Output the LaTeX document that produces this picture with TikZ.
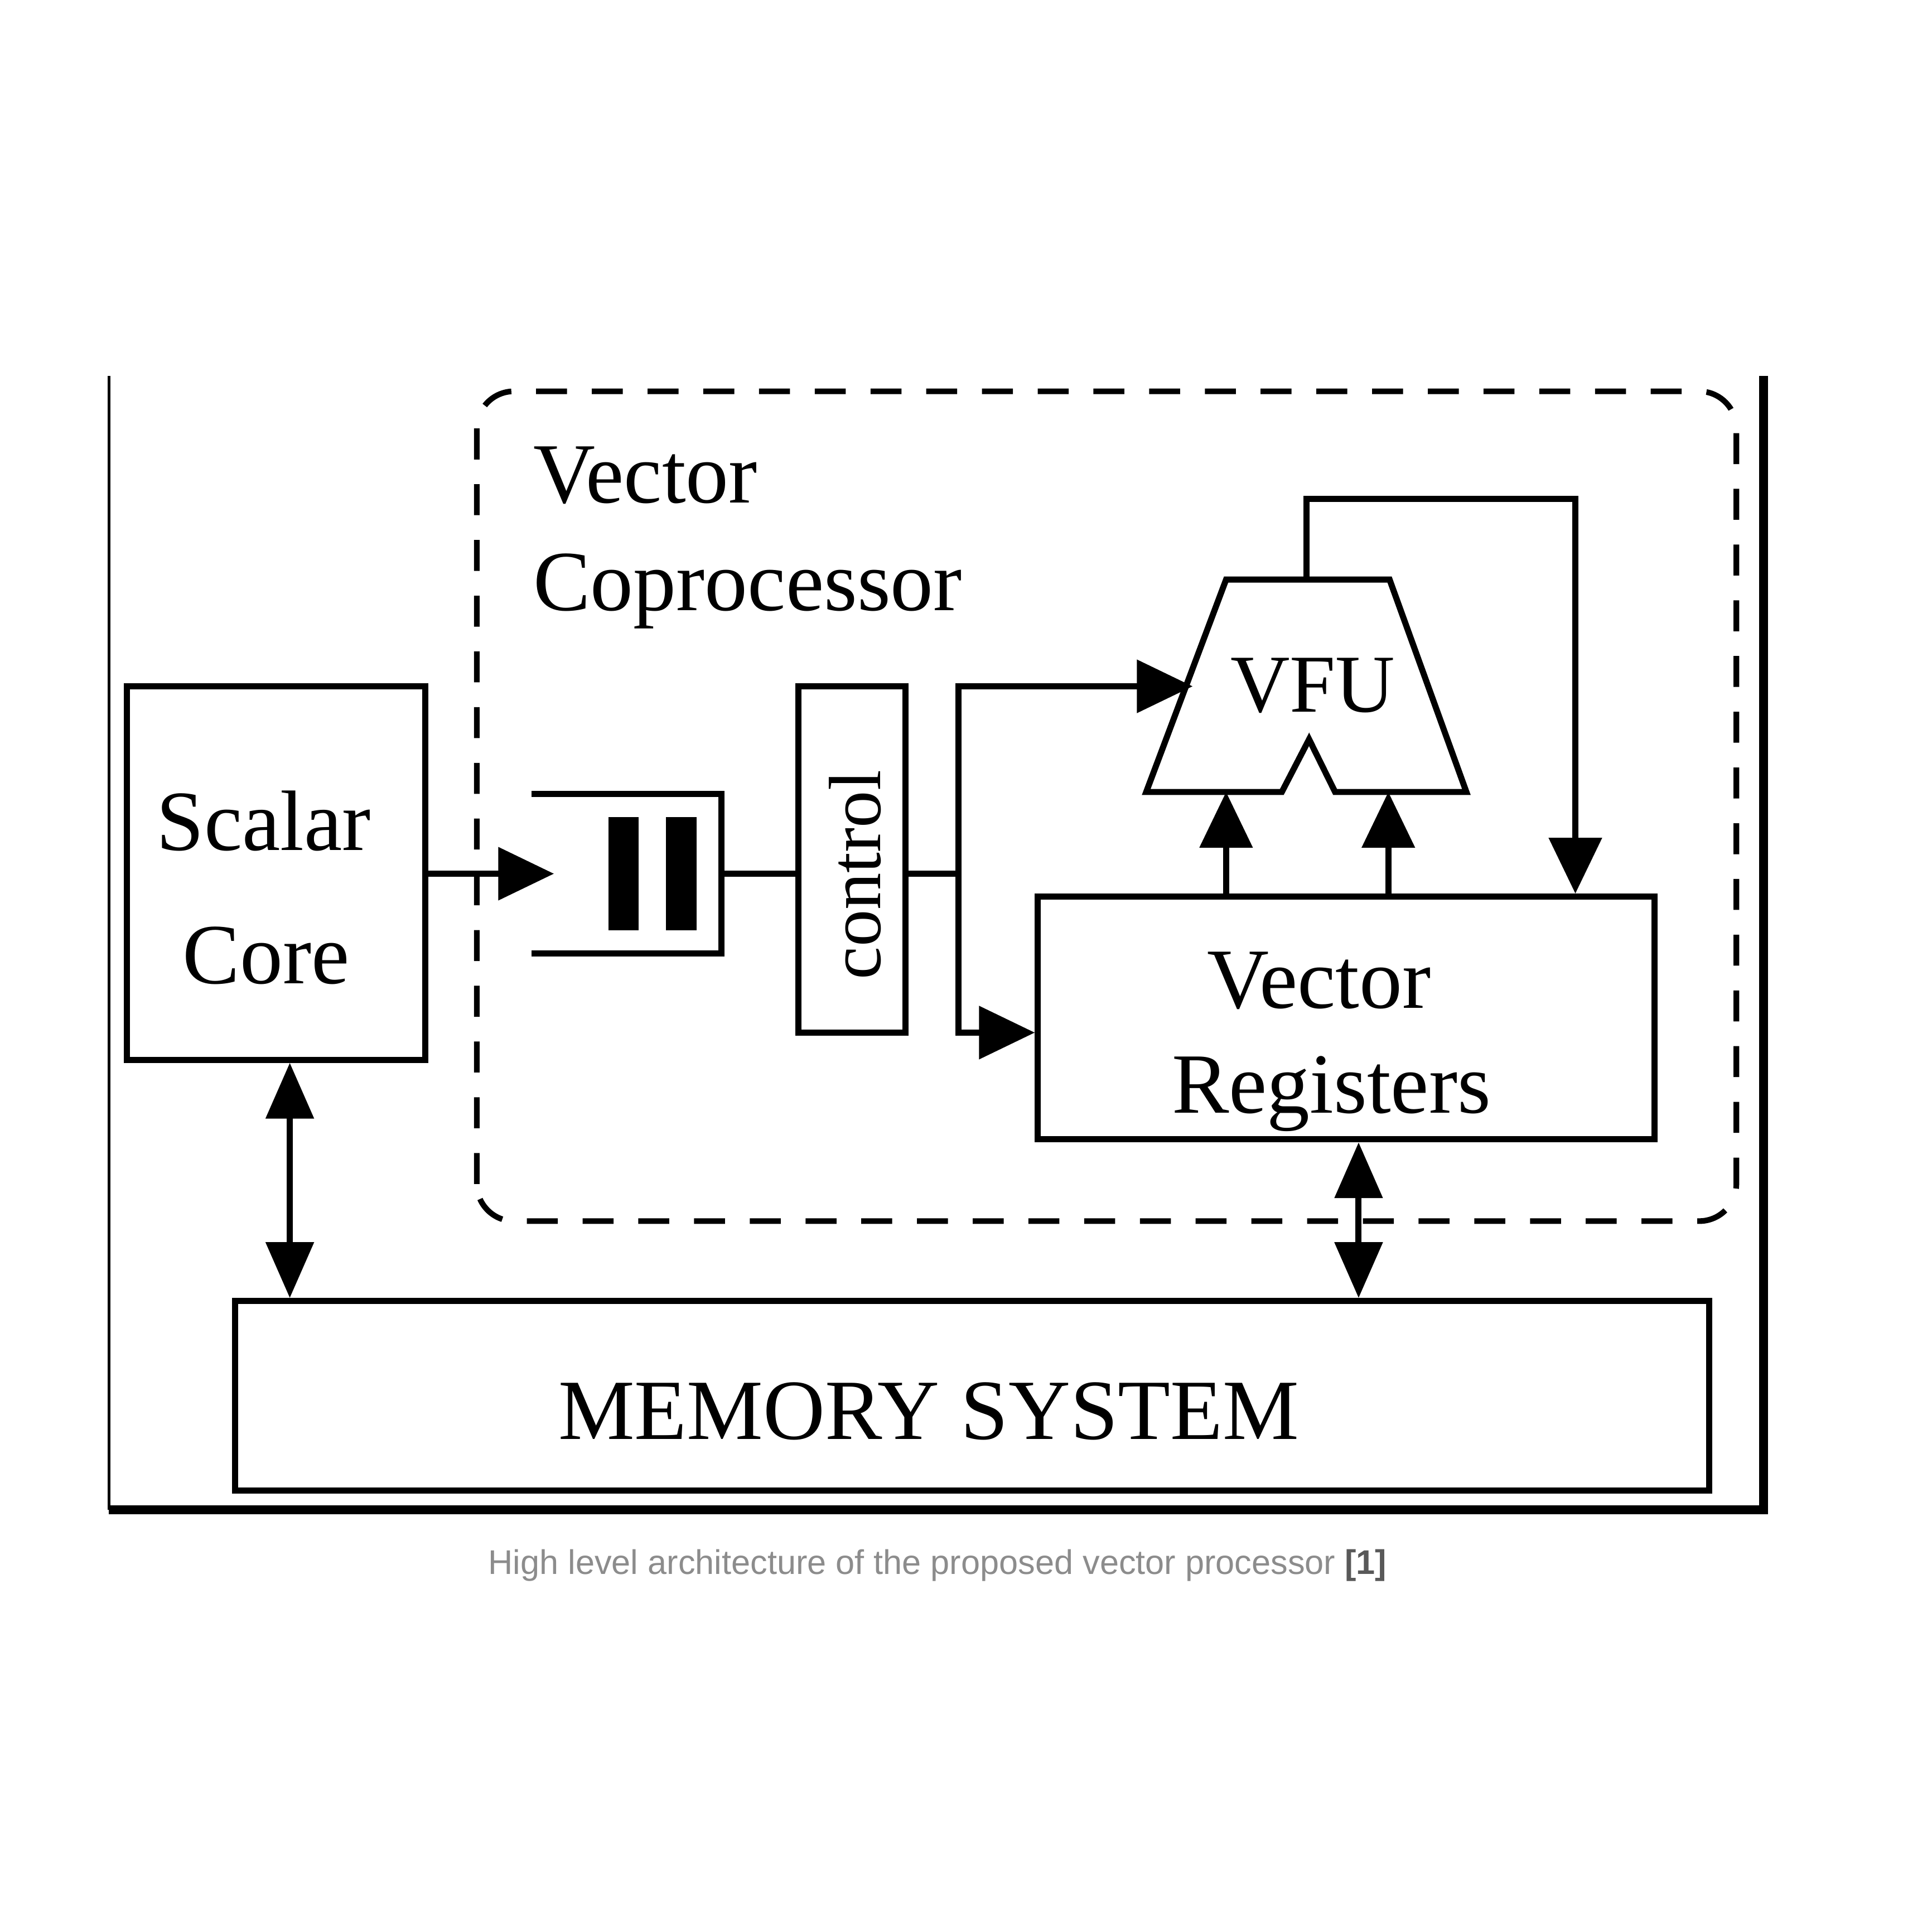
\documentclass[tikz,border=0pt]{standalone}
\usepackage{fontspec}
\setmainfont{Liberation Serif}
\newfontfamily\capfont{Liberation Sans}
\usepackage{tikz}
\usetikzlibrary{arrows.meta}

\begin{document}
\begin{tikzpicture}[
    box/.style={draw, line width=1.4pt, inner sep=0pt},
    lbl/.style={font=\fontsize{19.7}{24}\selectfont, inner sep=0pt, anchor=base},
    arr/.style={line width=1.4pt, -{Triangle[length=0.45cm, width=0.42cm]}},
    darr/.style={line width=1.4pt, {Triangle[length=0.45cm, width=0.38cm]}-{Triangle[length=0.45cm, width=0.38cm]}}
  ]
    \useasboundingbox (0,0) rectangle (15.6,15.6);
    % Moldura
    \draw[line width=0.6pt] (0.88,12.565) -- (0.88,3.41);
    \draw[line width=2pt] (0.88,3.41) -- (14.24,3.41) -- (14.24,12.565);
    % Coprocessador (tracejado)
    \draw[line width=1.3pt, dash pattern=on 0.25cm off 0.2cm, rounded corners=0.3cm] (3.85,5.74) rectangle (14.02,12.44);
    \node[lbl, anchor=base west] (cop1) at (4.30,11.54) {Vector};
    \node[lbl, anchor=base west] (cop2) at (4.30,10.67) {Coprocessor};
    % Scalar core
    \node[box, minimum width=2.41cm, minimum height=3.015cm] (scalar) at (2.23,8.55) {};
    \node[lbl] (scalar1) at (2.13,8.735) {Scalar};
    \node[lbl] (scalar2) at (2.15,7.66) {Core};
    % Fila
    \node[minimum width=1.52cm, minimum height=1.274cm, inner sep=0pt] (queue) at (5.06,8.545) {};
    \draw[line width=1.4pt] (queue.north west) -- (queue.north east) -- (queue.south east) -- (queue.south west);
    \node[fill, minimum width=0.24cm, minimum height=0.915cm, inner sep=0pt] (bar1) at (5.035,8.545) {};
    \node[fill, minimum width=0.25cm, minimum height=0.915cm, inner sep=0pt] (bar2) at (5.50,8.545) {};
    \coordinate (qin) at ([xshift=0.18cm]queue.west);
    % Controle
    \node[box, minimum width=0.865cm, minimum height=2.796cm] (control) at (6.88,8.66) {};
    \node[lbl, rotate=90, font=\fontsize{17}{20}\selectfont] (ctltxt) at (7.11,8.535) {control};
    % VFU
    \draw[line width=1.4pt] (9.255,9.205) -- (9.90,10.92) -- (11.22,10.92) -- (11.84,9.205) -- (10.78,9.205) -- (10.57,9.63) -- (10.35,9.205) -- cycle;
    \node[lbl, font=\fontsize{18.9}{22}\selectfont] (vfu) at (10.60,9.85) {VFU};
    \coordinate (vfuin) at (9.63,10.058);
    \coordinate (vfuout) at (10.55,10.92);
    \coordinate (vfuA) at (9.90,9.205);
    \coordinate (vfuB) at (11.21,9.205);
    % Registradores
    \node[box, minimum width=4.98cm, minimum height=1.96cm] (vreg) at (10.87,7.38) {};
    \node[lbl] (vreg1) at (10.65,7.461) {Vector};
    \node[lbl] (vreg2) at (10.75,6.615) {Registers};
    % Memoria
    \node[box, minimum width=11.90cm, minimum height=1.53cm] (mem) at (7.85,4.33) {};
    \node[lbl] (memtxt) at (7.50,3.98) {MEMORY SYSTEM};
    % Fiacao
    \coordinate (split) at (7.74,8.545);
    \coordinate (ctop) at (7.74,10.058);
    \coordinate (cbot) at (7.74,7.262);
    \draw[arr] (scalar.east |- qin) -- (qin);
    \draw[line width=1.4pt] (queue.east) -- (control.west |- queue.east);
    \draw[line width=1.4pt] (control.east |- split) -- (split);
    \draw[arr] (cbot) -- (ctop) -- (vfuin);
    \draw[arr] (ctop) -- (cbot) -- (vreg.west |- cbot);
    \draw[arr] (vreg.north -| vfuA) -- (vfuA);
    \draw[arr] (vreg.north -| vfuB) -- (vfuB);
    \draw[arr] (vfuout) -- (10.55,11.57) -- (12.72,11.57) -- (12.72,11.57 |- vreg.north);
    \draw[darr] ([xshift=0.11cm]scalar.south) -- ([xshift=0.11cm]scalar.south |- mem.north);
    \draw[darr] ([xshift=0.10cm]vreg.south) -- ([xshift=0.10cm]vreg.south |- mem.north);
    % Legenda
    \node[font=\capfont\fontsize{7.85}{10}\selectfont, text=black!45, inner sep=0pt] (caption) at (7.57,2.96) {High level architecture of the proposed vector processor \textbf{\color{black!65}[1]}};
\end{tikzpicture}
\end{document}
